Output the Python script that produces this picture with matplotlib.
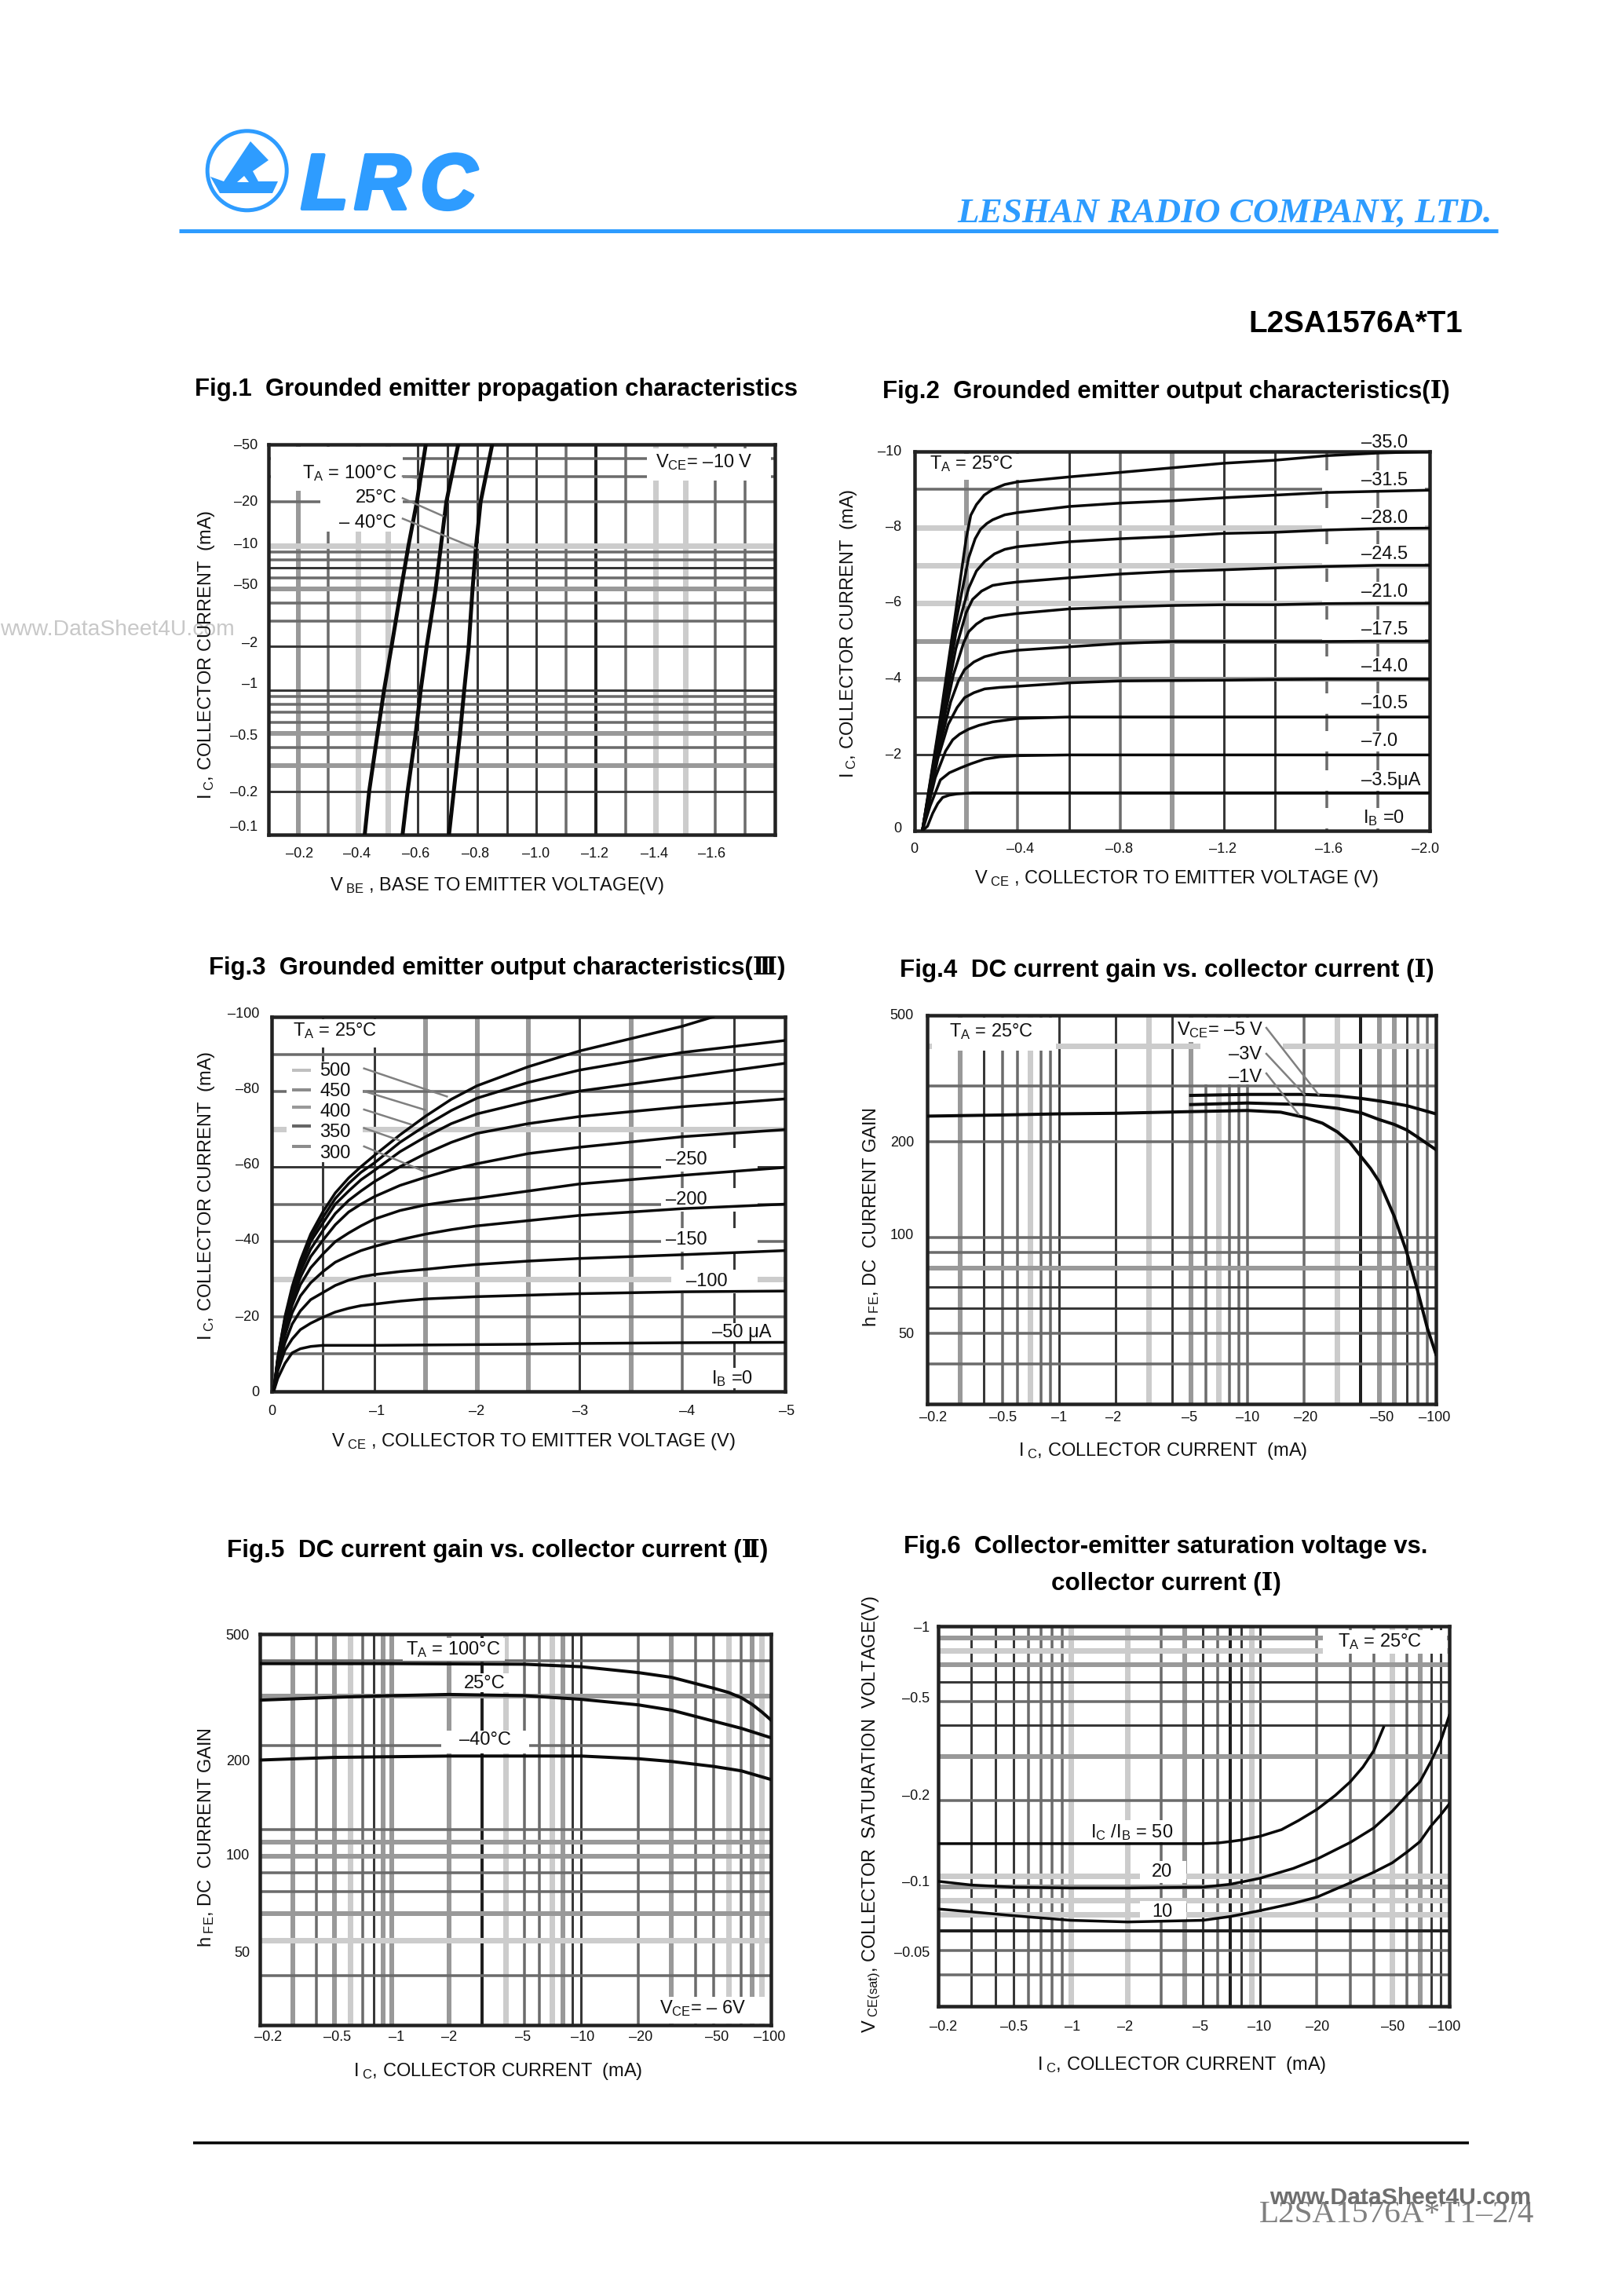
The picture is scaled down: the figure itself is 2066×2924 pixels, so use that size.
import matplotlib
matplotlib.use('Agg')
import matplotlib.pyplot as plt
import matplotlib.patheffects as pe
from matplotlib.patches import Rectangle, Circle, Polygon

plt.rcParams['font.family'] = ['Liberation Sans', 'DejaVu Serif', 'DejaVu Sans']
plt.rcParams['mathtext.fontset'] = 'custom'
plt.rcParams['mathtext.rm'] = 'Liberation Sans'
plt.rcParams['mathtext.it'] = 'Liberation Sans:italic'
plt.rcParams['mathtext.bf'] = 'Liberation Sans:bold'
plt.rcParams['mathtext.default'] = 'rm'

W, H = 2066, 2924
BLUE = '#2e9cff'

# Fig.1 data: base-emitter voltage (magnitude) for each collector current
fig1_ic = [0.1, 0.2, 0.5, 1, 2, 5, 10, 20, 50]
fig1_vbe_100 = [0.423, 0.438, 0.466, 0.488, 0.513, 0.545, 0.57, 0.598, 0.628]
fig1_vbe_25 = [0.55, 0.567, 0.594, 0.611, 0.631, 0.661, 0.679, 0.697, 0.737]
fig1_vbe_m40 = [0.706, 0.722, 0.743, 0.757, 0.772, 0.785, 0.797, 0.812, 0.851]
fig1_xticks = ['–0.2', '–0.4', '–0.6', '–0.8', '–1.0', '–1.2', '–1.4', '–1.6']
fig1_yticks = ['–50', '–20', '–10', '–50', '–2', '–1', '–0.5', '–0.2', '–0.1']
fig1_vgrid = [0.2, 0.3, 0.4, 0.5, 0.6, 0.7, 0.8, 0.9, 1.0, 1.1, 1.2, 1.3, 1.4, 1.5, 1.6, 1.7]
fig1_hgrid = [0.2, 0.3, 0.4, 0.5, 0.6, 0.7, 0.8, 0.9, 1, 2, 3, 4, 5, 6, 7, 8, 9, 10, 20, 30, 40]

# Fig.2 data: one (vce, ic) pair per base current
fig2_curves = [
    ([0.03, 0.1, 0.16, 0.2, 0.218, 0.24, 0.27, 0.303, 0.35, 0.4, 0.6, 0.8, 1.0, 1.2, 1.4, 1.6, 1.8, 2.0],
     [0, 3.0, 5.8, 7.7, 8.32, 8.6, 8.85, 9.0, 9.13, 9.2, 9.33, 9.45, 9.57, 9.69, 9.77, 9.89, 9.96, 10.0]),
    ([0.03, 0.1, 0.16, 0.21, 0.235, 0.256, 0.28, 0.303, 0.35, 0.4, 0.6, 0.8, 1.0, 1.2, 1.4, 1.6, 1.8, 2.0],
     [0, 2.9, 5.5, 7.2, 7.7, 7.95, 8.1, 8.2, 8.33, 8.39, 8.55, 8.64, 8.7, 8.78, 8.85, 8.92, 8.95, 8.98]),
    ([0.03, 0.1, 0.16, 0.21, 0.24, 0.272, 0.31, 0.35, 0.4, 0.6, 0.8, 1.0, 1.2, 1.4, 1.6, 1.8, 2.0],
     [0, 2.8, 5.2, 6.4, 6.85, 7.1, 7.3, 7.42, 7.49, 7.62, 7.7, 7.76, 7.84, 7.87, 7.93, 7.97, 7.98]),
    ([0.03, 0.1, 0.16, 0.2, 0.225, 0.26, 0.303, 0.35, 0.4, 0.6, 0.8, 1.0, 1.2, 1.4, 1.6, 1.8, 2.0],
     [0, 2.7, 4.8, 5.75, 6.1, 6.32, 6.47, 6.52, 6.56, 6.67, 6.77, 6.84, 6.88, 6.93, 6.97, 7.0, 7.0]),
    ([0.03, 0.1, 0.15, 0.19, 0.21, 0.24, 0.272, 0.33, 0.4, 0.6, 0.8, 1.0, 1.2, 1.4, 1.6, 1.8, 2.0],
     [0, 2.5, 4.1, 4.95, 5.25, 5.45, 5.59, 5.67, 5.73, 5.85, 5.9, 5.94, 5.96, 5.96, 5.99, 6.0, 6.0]),
    ([0.03, 0.1, 0.14, 0.17, 0.194, 0.23, 0.272, 0.33, 0.4, 0.6, 0.8, 1.0, 1.2, 1.4, 1.6, 1.8, 2.0],
     [0, 2.3, 3.4, 3.95, 4.25, 4.45, 4.59, 4.69, 4.76, 4.85, 4.94, 4.99, 4.99, 4.99, 4.99, 5.0, 5.0]),
    ([0.03, 0.09, 0.13, 0.165, 0.194, 0.23, 0.272, 0.33, 0.4, 0.6, 0.8, 1.0, 1.2, 1.4, 1.6, 2.0],
     [0, 1.9, 2.8, 3.25, 3.51, 3.64, 3.74, 3.78, 3.81, 3.9, 3.95, 3.96, 3.97, 3.99, 4.0, 4.0]),
    ([0.03, 0.08, 0.12, 0.148, 0.175, 0.21, 0.25, 0.303, 0.4, 0.6, 1.0, 1.4, 2.0],
     [0, 1.4, 2.1, 2.4, 2.55, 2.68, 2.78, 2.87, 2.96, 3.0, 3.0, 3.0, 3.0]),
    ([0.03, 0.06, 0.1, 0.135, 0.179, 0.22, 0.272, 0.33, 0.4, 0.6, 1.0, 2.0],
     [0, 0.65, 1.34, 1.53, 1.66, 1.77, 1.89, 1.95, 1.98, 2.0, 2.0, 2.0]),
    ([0.03, 0.05, 0.07, 0.09, 0.109, 0.135, 0.163, 0.225, 0.6, 1.0, 2.0],
     [0, 0.12, 0.46, 0.72, 0.88, 0.94, 0.97, 1.0, 1.0, 1.0, 1.0]),
]
fig2_xticks = ['0', '–0.4', '–0.8', '–1.2', '–1.6', '–2.0']
fig2_yticks = ['–10', '–8', '–6', '–4', '–2', '0']
fig2_labels = ['–35.0', '–31.5', '–28.0', '–24.5', '–21.0', '–17.5', '–14.0', '–10.5', '–7.0', '–3.5μA']
fig2_vgrid = [0.2, 0.4, 0.6, 0.8, 1.0, 1.2, 1.4, 1.6, 1.8]
fig2_hgrid = [1, 2, 3, 4, 5, 6, 7, 8, 9]

# Fig.3 data
fig3_vce = [0.02, 0.06, 0.13, 0.2, 0.28, 0.38, 0.5, 0.62, 0.75, 0.87, 1, 1.25, 1.5, 1.75, 2, 2.5, 3, 4, 5]
fig3_vce500 = [0.02, 0.06, 0.13, 0.2, 0.28, 0.38, 0.5, 0.62, 0.75, 0.87, 1, 1.25, 1.5, 1.75, 2, 2.5, 3, 4, 4.3]
fig3_ib500 = [0, 9, 20, 28, 35, 42, 48, 53, 57, 60, 63, 68.5, 73.5, 78, 81.6, 86.7, 90.9, 97.5, 100]
fig3_ib450 = [0, 9, 19.5, 27, 34, 41, 46.5, 51.5, 55.5, 58.5, 61, 66.5, 71, 75, 78.3, 82.5, 85.8, 90.5, 93.7]
fig3_ib400 = [0, 8.5, 19, 26, 33, 40, 45, 50, 53.5, 56.5, 59, 64, 68, 71.5, 74.1, 77.4, 80.2, 83.9, 87.6]
fig3_ib350 = [0, 8.5, 18, 25, 32, 38, 43, 47.5, 51, 53.5, 56, 60, 63.5, 66.5, 68.9, 71.5, 73.4, 76, 78.1]
fig3_ib300 = [0, 8, 17.5, 24, 30.5, 36, 40.4, 44.5, 47.9, 50, 52, 55, 57.2, 59.2, 60.8, 63.5, 65.2, 68, 69.9]
fig3_ib250 = [0, 7.5, 16.5, 23, 28.5, 33, 36.7, 40, 42.3, 44.2, 46, 48.3, 49.8, 50.8, 51.6, 53.5, 55.4, 57.7, 59.8]
fig3_ib200 = [0, 7, 15, 21, 25.5, 29, 32, 34.5, 36.2, 37.6, 38.7, 40.5, 42, 43.2, 44.2, 45.6, 47, 48.8, 50]
fig3_ib150 = [0, 6.5, 13, 18, 21.5, 24.5, 26.4, 28.3, 29.7, 30.6, 31.2, 32, 32.6, 33.3, 33.9, 34.8, 35.5, 36.5, 37.6]
fig3_ib100 = [0, 5.5, 11, 14, 16.5, 18.2, 19.8, 21.2, 22.2, 22.9, 23.3, 24.1, 24.7, 25, 25.3, 25.7, 26.1, 26.6, 26.8]
fig3_ib50 = [0, 3.5, 7.5, 10.3, 11.4, 12, 12.3, 12.3, 12.3, 12.3, 12.3, 12.35, 12.4, 12.45, 12.5, 12.6, 12.8, 13, 13.1]
fig3_xticks = ['0', '–1', '–2', '–3', '–4', '–5']
fig3_yticks = ['–100', '–80', '–60', '–40', '–20', '0']
fig3_legend = ['500', '450', '400', '350', '300']
fig3_labels = ['–250', '–200', '–150', '–100', '–50 μA']
fig3_vgrid = [0.5, 1, 1.5, 2, 2.5, 3, 3.5, 4, 4.5]
fig3_hgrid = [10, 20, 30, 40, 50, 60, 70, 80, 90]

# Fig.4 data
fig4_ic1 = [0.2, 0.5, 1, 2, 5, 10, 15, 20, 25, 30, 35, 40, 45, 50, 60, 70, 80, 90, 100]
fig4_hfe1 = [241, 243, 245, 246, 249, 251, 248, 239, 229, 215, 199, 180, 165, 150, 117, 90, 68, 52, 43]
fig4_ic3 = [5, 10, 20, 30, 40, 50, 60, 70, 80, 100]
fig4_hfe3 = [262, 265, 262, 255, 247, 235, 227, 218, 207, 189]
fig4_ic5 = [5, 10, 20, 30, 40, 50, 70, 100]
fig4_hfe5 = [280, 282, 282, 279, 274, 269, 260, 245]
current_ticks = ['–0.2', '–0.5', '–1', '–2', '–5', '–10', '–20', '–50', '–100']
fig4_yticks = ['500', '200', '100', '50']
current_grid = [0.3, 0.4, 0.5, 0.6, 0.7, 0.8, 0.9, 1, 2, 3, 4, 5, 6, 7, 8, 9, 10, 20, 30, 40, 50, 60, 70, 80, 90]
fig4_hgrid = [40, 50, 60, 70, 80, 90, 100, 200, 300, 400]

# Fig.5 data
fig5_ic100 = [0.2, 1, 5, 10, 20, 30, 50, 60, 70, 80, 90, 100]
fig5_hfe100 = [392, 392, 390, 382, 364, 350, 320, 309, 296, 280, 263, 247]
fig5_ic = [0.2, 0.5, 1, 2, 5, 10, 20, 30, 50, 70, 100]
fig5_hfe25 = [290, 297, 301, 304, 301, 292, 279, 267, 244, 230, 213]
fig5_hfem40 = [177, 181, 182, 183, 183, 183, 179, 175, 168, 162, 151]
fig5_yticks = ['500', '200', '100', '50']
fig5_hgrid = [30, 40, 50, 60, 70, 80, 90, 100, 200, 300, 400]

# Fig.6 data
fig6_ic50 = [0.2, 1, 5, 6, 7, 8, 10, 13, 16, 20, 25, 30, 35, 40, 45]
fig6_vce50 = [0.1345, 0.1345, 0.1345, 0.1353, 0.1372, 0.1391, 0.1439, 0.153, 0.1665, 0.1844, 0.2099, 0.238, 0.2727,
              0.3178, 0.3938]
fig6_ic = [0.2, 0.3, 0.5, 1, 2, 5, 7, 10, 15, 20, 30, 40, 50, 60, 70, 80, 90, 100]
fig6_vce20 = [0.095, 0.0918, 0.09, 0.0893, 0.0893, 0.09, 0.0925, 0.0977, 0.107, 0.1166, 0.136, 0.1556, 0.1815,
              0.2113, 0.238, 0.287, 0.346, 0.439]
fig6_vce10 = [0.0736, 0.0717, 0.0692, 0.0663, 0.0653, 0.0663, 0.0687, 0.0725, 0.0775, 0.0821, 0.0937, 0.1034,
              0.1127, 0.1247, 0.137, 0.1582, 0.1753, 0.194]
fig6_yticks = ['–1', '–0.5', '–0.2', '–0.1', '–0.05']
fig6_hgrid = [0.04, 0.05, 0.06, 0.07, 0.08, 0.09, 0.1, 0.2, 0.3, 0.4, 0.5, 0.6, 0.7, 0.8, 0.9]

# grid line looks: D/d dark, m mid, g gray, l light (one letter per grid line)
GRID = {'D': (0.12, 4), 'd': (0.22, 3), 'm': (0.42, 3.5), 'g': (0.6, 6), 'l': (0.8, 7)}

fig = plt.figure(figsize=(W / 100, H / 100), dpi=100)
PX = 0.72  # one pixel in points

# a page axes in pixel coordinates for the text that sits around the charts
page = fig.add_axes([0, 0, 1, 1], zorder=5)
page.set_xlim(0, W)
page.set_ylim(H, 0)
page.axis('off')


def txt(x, y, s, size=17, ha='left', va='center', **kw):
    return page.text(x, y, s, fontsize=size, ha=ha, va=va, color=kw.pop('color', '#111111'), **kw)


def fit(t, width):
    w = t.get_window_extent(fig.canvas.get_renderer()).width
    t.set_fontsize(t.get_fontsize() * width / w)


def title(x, y, s, right):
    t = txt(x, y, s, size=22, va='baseline', weight='bold', color='black')
    fit(t, right - x)


def panel(left, top, right, bottom, xlim, ylim, vgrid, vstyle, hgrid, hstyle, xlog=False, ylog=False):
    ax = fig.add_axes([left / W, 1 - bottom / H, (right - left) / W, (bottom - top) / H])
    if xlog:
        ax.set_xscale('log')
    if ylog:
        ax.set_yscale('log')
    ax.set_xlim(xlim)
    ax.set_ylim(ylim)
    ax.set_xticks([])
    ax.set_yticks([])
    ax.minorticks_off()
    for v, st in zip(vgrid, vstyle):
        g, w = GRID[st]
        ax.axvline(v, color=str(g), lw=w * PX, zorder=1)
    for v, st in zip(hgrid, hstyle):
        g, w = GRID[st]
        ax.axhline(v, color=str(g), lw=w * PX, zorder=1)
    for s in ax.spines.values():
        s.set_linewidth(4.5 * PX)
        s.set_color('#222222')
    return ax


def mask(ax, x0, y0, x1, y1):
    ax.add_patch(Rectangle((x0, y0), x1 - x0, y1 - y0, transform=page.transData,
                           fc='white', ec='none', zorder=1.5))


def leader(x0, y0, x1, y1, gray='0.5'):
    page.plot([x0, x1], [y0, y1], color=gray, lw=2.5 * PX)


def curve(ax, x, y, lw=3.5):
    ax.plot(x, y, color='#0a0a0a', lw=lw * PX, zorder=3, solid_joinstyle='round')


def xticks(labels, xs, y, size=13):
    for s, x in zip(labels, xs):
        txt(x, y, s, size=size, ha='center')


def yticks(labels, ys, x, size=13):
    for s, y in zip(labels, ys):
        txt(x, y, s, size=size, ha='right')


# page header
page.add_patch(Circle((314.7, 217.3), 50.5, fill=False, ec=BLUE, lw=5 * PX))
page.add_patch(Polygon([(268, 225), (285, 231), (319, 180), (342, 204), (322, 218), (329, 231),
                        (354, 231), (347, 246), (280, 246)], fc=BLUE, ec='none'))
page.add_patch(Polygon([(302, 232), (311, 224), (317, 232)], fc='white', ec='none'))
for letter, x in zip('LRC', [383, 451, 535]):
    t = page.text(x, 266, letter, fontsize=72, weight='bold', style='italic', color=BLUE, va='baseline')
    t.set_path_effects([pe.withStroke(linewidth=3, foreground=BLUE)])
page.plot([228, 1908], [294, 294], color=BLUE, lw=5 * PX, solid_capstyle='butt')
t = txt(1219, 283, 'LESHAN RADIO COMPANY, LTD.', size=30, va='baseline', family='Liberation Serif',
        weight='bold', style='italic', color=BLUE)
fit(t, 680)
t = txt(1590, 423, 'L2SA1576A*T1', size=28, va='baseline', weight='bold', color='black')
fit(t, 273)
t = txt(0, 802, 'www.DataSheet4U.com', size=22, color='#c8c8c8', zorder=0)
fit(t, 298)

# Fig.1
title(248, 504, 'Fig.1  Grounded emitter propagation characteristics', 1015)
ax = panel(342, 566, 987, 1063, (0.1, 1.8), (0.1, 50), fig1_vgrid, 'gmlldddddmDmllmm', fig1_hgrid,
           'dgmgmmmmddmmgmdmmlmmm', ylog=True)
mask(ax, 345, 569, 513, 625)
mask(ax, 408, 625, 513, 677)
mask(ax, 824, 571, 982, 612)
curve(ax, fig1_vbe_100, fig1_ic, 5)
curve(ax, fig1_vbe_25, fig1_ic, 5)
curve(ax, fig1_vbe_m40, fig1_ic, 5)
xticks(fig1_xticks, [382, 455, 530, 606, 683, 757, 834, 907], 1088)
yticks(fig1_yticks, [568, 639, 693, 746, 819, 872, 937, 1010, 1054], 328)
txt(633, 1128, r'V$_{\ \mathrm{BE}}$ , BASE TO EMITTER VOLTAGE(V)', ha='center')
txt(263, 834, r'I$_{\ \mathrm{C}}$, COLLECTOR CURRENT  (mA)', ha='center', rotation=90)
txt(385, 603, r'T$_{\mathrm{A}}$ = 100°C')
txt(506, 634.5, '25°C', ha='right')
txt(505, 666, '– 40°C', ha='right')
txt(835, 589, r'V$_{\mathrm{CE}}$= –10 V')
leader(513, 606.5, 531, 608.5)
leader(513, 634.5, 564, 657)
leader(513, 660.5, 605, 698)

# Fig.2
title(1124, 507, 'Fig.2  Grounded emitter output characteristics(Ⅰ)', 1846)
ax = panel(1165, 575, 1821, 1058, (0, 2.0), (0, 10), fig2_vgrid, 'gmdmgddmm', fig2_hgrid, 'dddgglllm')
mask(ax, 1167, 578, 1328, 611)
fig2_label_y = [564, 612, 659.5, 705.5, 754, 801.5, 849, 896, 944, 994]
for y in fig2_label_y:
    mask(ax, 1684, y - 13, 1815, y + 13)
mask(ax, 1684, 1029, 1815, 1055)
for vce, ic in fig2_curves:
    curve(ax, vce, ic)
xticks(fig2_xticks, [1164, 1300, 1426, 1558, 1693, 1816], 1081)
yticks(fig2_yticks, [575, 671, 768, 864.5, 961, 1056], 1148)
txt(1498, 1118.5, r'V$_{\ \mathrm{CE}}$ , COLLECTOR TO EMITTER VOLTAGE (V)', ha='center')
txt(1081, 807, r'I$_{\ \mathrm{C}}$, COLLECTOR CURRENT  (mA)', ha='center', rotation=90)
txt(1184, 591, r'T$_{\mathrm{A}}$ = 25°C')
for s, y in zip(fig2_labels, fig2_label_y):
    txt(1733.5, y, s)
txt(1736, 1042, r'I$_{\mathrm{B}}$ =0')

# Fig.3
title(266, 1241, 'Fig.3  Grounded emitter output characteristics(Ⅲ)', 998)
ax = panel(346, 1295, 1000, 1772, (0, 5), (0, 100), fig3_vgrid, 'ddgggdgmd', fig3_hgrid, 'mmlmmdlmm')
mask(ax, 350, 1298, 485, 1334)
mask(ax, 365, 1352, 462, 1480)
for y in [1477, 1528, 1579]:
    mask(ax, 842, y - 15, 965, y + 15)
mask(ax, 855, 1617, 965, 1647)
mask(ax, 905, 1685, 985, 1709)
mask(ax, 903, 1742, 960, 1768)
curve(ax, fig3_vce500, fig3_ib500)
for ib in [fig3_ib450, fig3_ib400, fig3_ib350, fig3_ib300, fig3_ib250, fig3_ib200,
           fig3_ib150, fig3_ib100, fig3_ib50]:
    curve(ax, fig3_vce, ib)
xticks(fig3_xticks, [346, 480, 607.5, 739, 875, 1002], 1798)
yticks(fig3_yticks, [1291.5, 1387.5, 1483.5, 1580, 1677.7, 1773], 330.5)
txt(679, 1836, r'V$_{\ \mathrm{CE}}$ , COLLECTOR TO EMITTER VOLTAGE (V)', ha='center')
txt(263, 1523, r'I$_{\ \mathrm{C}}$, COLLECTOR CURRENT  (mA)', ha='center', rotation=90)
txt(373, 1313, r'T$_{\mathrm{A}}$ = 25°C')
for s, y in zip(fig3_legend, [1364, 1390, 1416, 1442, 1469]):
    txt(407, y, s)
for y, g in zip([1363, 1388, 1410, 1434, 1460], ['0.75', '0.55', '0.6', '0.4', '0.55']):
    page.plot([372, 396], [y, y], color=g, lw=4 * PX, solid_capstyle='butt')
leader(463.7, 1360.7, 569.3, 1396.4)
leader(463.7, 1389.7, 541.2, 1413.4)
leader(463.7, 1413, 523.4, 1432)
leader(463.7, 1436.6, 508, 1452)
leader(463.7, 1460, 541, 1492)
for s, x, y in zip(fig3_labels, [848, 848, 848, 874, 907], [1477, 1528, 1578.6, 1631.7, 1697]):
    txt(x, y, s)
txt(906, 1756, r'I$_{\mathrm{B}}$ =0')

# Fig.4
title(1146, 1244, 'Fig.4  DC current gain vs. collector current (Ⅰ)', 1824)
ax = panel(1181, 1293, 1829, 1788, (0.2, 100), (30, 500), current_grid, 'gdmmlmmddldgmlmmmmlDggdmm',
           fig4_hgrid, 'mmddgmmmml', xlog=True, ylog=True)
mask(ax, 1187, 1296, 1345, 1338)
mask(ax, 1529, 1296, 1634, 1381)
mask(ax, 1498, 1296, 1529, 1327)
curve(ax, fig4_ic1, fig4_hfe1, 4)
curve(ax, fig4_ic3, fig4_hfe3, 4)
curve(ax, fig4_ic5, fig4_hfe5, 4)
xticks(current_ticks, [1189, 1277.5, 1349, 1418, 1515, 1589, 1663, 1760, 1827], 1805)
yticks(fig4_yticks, [1293, 1455, 1574, 1699], 1164)
txt(1481, 1848, r'I$_{\ \mathrm{C}}$, COLLECTOR CURRENT  (mA)', ha='center')
txt(1110, 1550, r'h$_{\ \mathrm{FE}}$, DC  CURRENT GAIN', ha='center', rotation=90)
txt(1208.6, 1314, r'T$_{\mathrm{A}}$ = 25°C')
txt(1499, 1311.6, r'V$_{\mathrm{CE}}$= –5 V')
txt(1565, 1343, '–3V')
txt(1565, 1372, '–1V')
leader(1613, 1309, 1679.5, 1394)
leader(1613, 1342, 1661.6, 1394)
leader(1613, 1367, 1654, 1419)

# Fig.5
title(289, 1982.5, 'Fig.5  DC current gain vs. collector current (Ⅱ)', 975)
ax = panel(330.5, 2081, 981.5, 2578.5, (0.2, 100), (20, 500), current_grid, 'gmglmdgggDlmmlgddmgmmlmgl',
           fig5_hgrid, 'mlgmmggmmgm', xlog=True, ylog=True)
mask(ax, 513, 2086, 643, 2114.6)
mask(ax, 585, 2131, 653.5, 2155)
mask(ax, 561.6, 2204, 674, 2232.6)
mask(ax, 816.7, 2542.6, 979, 2577)
curve(ax, fig5_ic100, fig5_hfe100, 4)
curve(ax, fig5_ic, fig5_hfe25, 4)
curve(ax, fig5_ic, fig5_hfem40, 4)
xticks(current_ticks, [342, 430, 505.5, 572, 666, 742, 816, 913, 980], 2594.5)
yticks(fig5_yticks, [2083, 2244, 2364, 2488], 318)
txt(634, 2638, r'I$_{\ \mathrm{C}}$, COLLECTOR CURRENT  (mA)', ha='center')
txt(263, 2340, r'h$_{\ \mathrm{FE}}$, DC  CURRENT GAIN', ha='center', rotation=90)
txt(517, 2100.5, r'T$_{\mathrm{A}}$ = 100°C')
txt(591, 2144, '25°C')
txt(584.6, 2216, '–40°C')
txt(840, 2558, r'V$_{\mathrm{CE}}$= – 6V')

# Fig.6
title(1151, 1978, 'Fig.6  Collector-emitter saturation voltage vs.', 1819)
title(1339, 2025, 'collector current (Ⅰ)', 1631)
ax = panel(1195, 2071, 1846, 2555, (0.2, 100), (0.03, 1), current_grid, 'dddmmmmllmgdmDdldmmmlmgdd',
           fig6_hgrid, 'mmDllglmgdmdglg', xlog=True, ylog=True)
mask(ax, 1684.6, 2076, 1843, 2106)
mask(ax, 1381, 2317.5, 1498, 2346)
mask(ax, 1452, 2370, 1511, 2398)
mask(ax, 1452, 2421, 1511, 2447)
curve(ax, fig6_ic50, fig6_vce50)
curve(ax, fig6_ic, fig6_vce20)
curve(ax, fig6_ic, fig6_vce10)
xticks(current_ticks, [1202, 1292, 1366, 1433, 1529, 1604, 1678, 1774, 1840], 2582)
yticks(fig6_yticks, [2073, 2164, 2288, 2398, 2488], 1184.6)
txt(1505, 2630, r'I$_{\ \mathrm{C}}$, COLLECTOR CURRENT  (mA)', ha='center')
txt(1110, 2310, r'V$_{\ \mathrm{CE(sat)}}$, COLLECTOR  SATURATION  VOLTAGE(V)', ha='center', rotation=90)
txt(1703.5, 2091, r'T$_{\mathrm{A}}$ = 25°C')
txt(1388.7, 2334, r'I$_{\mathrm{C}}$ /I$_{\mathrm{B}}$ = 50')
txt(1467, 2383.6, '20')
txt(1467, 2434.6, '10')

# page footer
page.plot([246, 1871], [2729, 2729], color='black', lw=3.5 * PX, solid_capstyle='butt')
t = txt(1604, 2830, 'L2SA1576A*T1–2/4', size=29, va='baseline', family='Liberation Serif', color='#808080')
fit(t, 350)
t = txt(1617, 2807, 'www.DataSheet4U.com', size=21, va='baseline', weight='bold', color='#6e6e6e')
fit(t, 333)

fig.savefig('out.png', dpi=100)
